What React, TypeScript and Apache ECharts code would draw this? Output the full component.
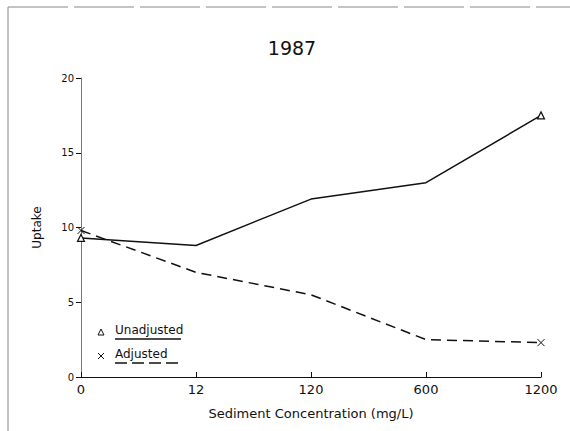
import React, { useEffect, useRef } from "react";
import * as echarts from "echarts";

const categories = ["0", "12", "120", "600", "1200"];
const unadjusted = [9.3, 8.8, 11.9, 13.0, 17.5];
const adjusted = [9.8, 7.0, 5.5, 2.5, 2.3];
const yTicks = { min: 0, max: 20, interval: 5 };

const FONT = "'DejaVu Sans', sans-serif";
const X_PATH = "path://M0,0L10,10M10,0L0,10";

function endpointsOnly(values: number[], symbol: string) {
  return values.map((v, i) => ({
    value: v,
    symbol: i === 0 || i === values.length - 1 ? symbol : "none",
  }));
}

export default function App() {
  const ref = useRef<HTMLDivElement>(null);
  useEffect(() => {
    if (!ref.current) return;
    const chart = echarts.init(ref.current, undefined, { renderer: "svg" });
    chart.setOption({
      animation: false,
      backgroundColor: "#fff",
      title: {
        text: "1987",
        left: 287,
        top: 33,
        textAlign: "center",
        textStyle: { fontFamily: FONT, fontSize: 19, fontWeight: "normal", color: "#111" },
      },
      grid: { left: 81, right: 29, top: 78, bottom: 54 },
      xAxis: {
        type: "category",
        data: categories,
        boundaryGap: false,
        name: "Sediment Concentration (mg/L)",
        nameLocation: "middle",
        nameGap: 30,
        nameTextStyle: { fontFamily: FONT, fontSize: 13, color: "#111" },
        axisLine: { lineStyle: { color: "#111", width: 1.2 } },
        axisTick: { inside: true, length: 5, lineStyle: { color: "#111" }, alignWithLabel: true },
        axisLabel: { fontFamily: FONT, fontSize: 13, color: "#111", margin: 6 },
        splitLine: { show: false },
      },
      yAxis: {
        type: "value",
        min: yTicks.min,
        max: yTicks.max,
        interval: yTicks.interval,
        name: "Uptake",
        nameLocation: "middle",
        nameGap: 38,
        nameRotate: 90,
        nameTextStyle: { fontFamily: FONT, fontSize: 12, color: "#111" },
        axisLine: { show: true, lineStyle: { color: "#777", width: 1 } },
        axisTick: { show: true, length: 5, lineStyle: { color: "#111" } },
        axisLabel: { fontFamily: FONT, fontSize: 10, color: "#111", margin: 7 },
        splitLine: { show: false },
      },
      series: [
        {
          name: "Unadjusted",
          type: "line",
          data: endpointsOnly(unadjusted, "triangle"),
          symbolSize: 7,
          itemStyle: { color: "#fff", borderColor: "#111", borderWidth: 1.2 },
          lineStyle: { color: "#111", width: 1.5 },
        },
        {
          name: "Adjusted",
          type: "line",
          data: endpointsOnly(adjusted, X_PATH),
          symbolSize: 7,
          itemStyle: { color: "none", borderColor: "#111", borderWidth: 1 },
          lineStyle: { color: "#111", width: 1.5, type: [10, 6] },
        },
      ],
      graphic: [
        { type: "line", shape: { x1: 8, y1: 7, x2: 570, y2: 7 }, style: { stroke: "#888", lineWidth: 1, lineDash: [60, 6] } },
        { type: "line", shape: { x1: 8, y1: 7, x2: 8, y2: 431 }, style: { stroke: "#888", lineWidth: 1 } },
        { type: "polygon", shape: { points: [[98, 335], [104, 335], [101, 329]] }, style: { fill: "#fff", stroke: "#111", lineWidth: 1 } },
        { type: "text", left: 115, top: 324, style: { text: "Unadjusted", fontFamily: FONT, fontSize: 12, fill: "#111" } },
        { type: "line", shape: { x1: 115, y1: 339, x2: 181, y2: 339 }, style: { stroke: "#111", lineWidth: 1.5 } },
        { type: "line", shape: { x1: 98, y1: 353, x2: 104, y2: 359 }, style: { stroke: "#111", lineWidth: 1 } },
        { type: "line", shape: { x1: 104, y1: 353, x2: 98, y2: 359 }, style: { stroke: "#111", lineWidth: 1 } },
        { type: "text", left: 115, top: 348, style: { text: "Adjusted", fontFamily: FONT, fontSize: 12, fill: "#111" } },
        { type: "line", shape: { x1: 115, y1: 363, x2: 181, y2: 363 }, style: { stroke: "#111", lineWidth: 1.5, lineDash: [12, 5] } },
      ],
    });
    return () => chart.dispose();
  }, []);
  return <div ref={ref} style={{ width: 570, height: 431, position: "absolute", left: 0, top: 0 }} />;
}
